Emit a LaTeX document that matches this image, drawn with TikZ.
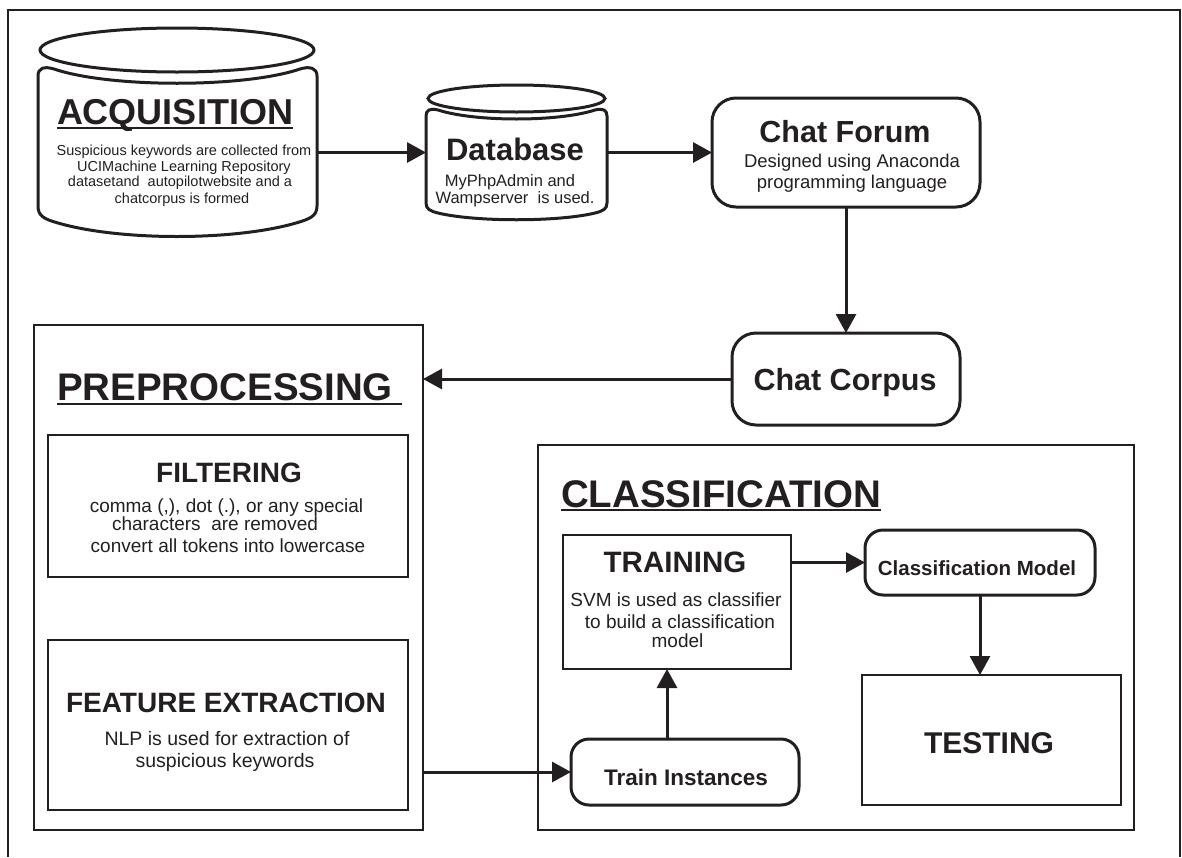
\documentclass[tikz,border=0pt]{standalone}
\usepackage{fontspec}
\setmainfont{Liberation Sans}
\usetikzlibrary{arrows.meta}
\definecolor{ink}{HTML}{231F20}
\newcommand\setfs[1]{\fontsize{#1pt}{#1pt}\selectfont}

\begin{document}
\begin{tikzpicture}[x=1pt,y=-1pt,
  frame/.style={draw=ink, line width=2.2pt},
  cyl/.style={draw=ink, line width=3pt},
  boxr/.style={draw=ink, line width=2.8pt, inner sep=0pt, outer sep=0pt},
  rbox/.style={boxr, line width=3pt, rounded corners=24pt},
  hit/.style={inner sep=0pt, outer sep=0pt},
  txt/.style={inner sep=0pt, outer sep=0pt, text=ink, anchor=base},
  ttl/.style={txt, font=\bfseries\setfs{#1}},
  sm/.style={txt, font=\setfs{#1}},
  uline/.style={draw=ink, line width=2pt},
  arrow/.style={draw=ink, line width=3pt, -{Triangle[length=19pt,width=20pt]}},
]
\useasboundingbox (0,0) rectangle (1182,857);

% page frame, open at the bottom
\draw[frame] (8,857) -- (8,10) -- (1180,10) -- (1180,857);

% ---- acquisition store ----
\draw[cyl] (177,50) ellipse [x radius=137, y radius=22];
\draw[cyl] (38,76) .. controls (38,68) and (44,66) .. (54,69)
  .. controls (110,88) and (244,88) .. (300,69)
  .. controls (310,66) and (317,68) .. (317,76) -- (317,206)
  .. controls (317,216) and (310,219) .. (296,223)
  .. controls (234,241) and (120,241) .. (58,223)
  .. controls (44,219) and (38,216) .. (38,206) -- cycle;
\node[hit, minimum width=279pt, minimum height=169pt] (acq) at (177.5,152.5) {};
\node[ttl=36, anchor=base west] (acqT) at (57,124) {ACQUISITION};
\draw[uline] ([yshift=-4pt]acqT.base west) -- ([yshift=-4pt]acqT.base east);
\node[sm=14.5] (acq1) at (184,155) {Suspicious keywords are collected from};
\node[sm=14.5] (acq2) at (184,171) {UCIMachine Learning Repository};
\node[sm=14.5] (acq3) at (180,186) {datasetand\ \ autopilotwebsite and a};
\node[sm=14.5] (acq4) at (182,203) {chatcorpus is formed};

% ---- database store ----
\draw[cyl] (516.5,98.5) ellipse [x radius=88.5, y radius=13.5];
\draw[cyl] (426,116) .. controls (426,110) and (430,108) .. (438,110)
  .. controls (475,122) and (558,122) .. (595,110)
  .. controls (603,108) and (607,110) .. (607,116) -- (607,203)
  .. controls (607,209) and (603,211) .. (595,213)
  .. controls (558,222) and (475,222) .. (438,213)
  .. controls (430,211) and (426,209) .. (426,203) -- cycle;
\node[hit, minimum width=181pt, minimum height=108pt] (db) at (516.5,164) {};
\node[ttl=31] (dbT) at (515,160) {Database};
\node[sm=16.5] (db1) at (510,186) {MyPhpAdmin and};
\node[sm=16.5] (db2) at (515,203) {Wampserver\ \ is used.};

% ---- chat forum and corpus ----
\node[rbox, minimum width=268pt, minimum height=109pt] (forum) at (846,152.5) {};
\node[ttl=30.5] (forumT) at (845,142) {Chat Forum};
\node[sm=18.5] (forum1) at (852,167) {Designed using Anaconda};
\node[sm=18.5] (forum2) at (852,188) {programming language};

\node[rbox, minimum width=228pt, minimum height=92pt] (corpus) at (846,379) {};
\node[ttl=30.5] (corpusT) at (845,390) {Chat Corpus};

% ---- preprocessing ----
\node[boxr, minimum width=389pt, minimum height=505pt] (pre) at (228.5,577.5) {};
\node[ttl=38.5, anchor=base west] (preT) at (57,400) {PREPROCESSING};
\draw[uline] ([yshift=-3.5pt]preT.base west) -- ([yshift=-3.5pt,xshift=9pt]preT.base east);

\node[boxr, minimum width=360pt, minimum height=142pt] (filt) at (228,506) {};
\node[ttl=28] (filtT) at (229,482) {FILTERING};
\node[sm=19] (filt1) at (226.5,512) {comma (,), dot (.), or any special};
\node[sm=19] (filt2) at (215,530) {characters\ \ are removed};
\node[sm=19] (filt3) at (228,552) {convert all tokens into lowercase};

\node[boxr, minimum width=360pt, minimum height=170pt] (feat) at (228,725) {};
\node[ttl=28] (featT) at (226,712) {FEATURE EXTRACTION};
\node[sm=19.5] (feat1) at (227,745) {NLP is used for extraction of};
\node[sm=19.5] (feat2) at (225,767) {suspicious keywords};

% ---- classification ----
\node[boxr, minimum width=596pt, minimum height=385pt] (cls) at (836,637.5) {};
\node[ttl=38.5, anchor=base west] (clsT) at (561,507) {CLASSIFICATION};
\draw[uline] ([yshift=-3pt]clsT.base west) -- ([yshift=-3pt]clsT.base east);

\node[boxr, minimum width=228pt, minimum height=134pt] (train) at (677,602) {};
\node[ttl=29.5] (trainT) at (675,572) {TRAINING};
\node[sm=19] (train1) at (676,606) {SVM is used as classifier};
\node[sm=19] (train2) at (680,628) {to build a classification};
\node[sm=19] (train3) at (677.5,647) {model};

\node[rbox, rounded corners=18pt, minimum width=230pt, minimum height=65pt] (model) at (980,562.5) {};
\node[ttl=20.5] (modelT) at (977,575) {Classification Model};

\node[boxr, minimum width=259pt, minimum height=130pt] (test) at (991.5,740) {};
\node[ttl=30] (testT) at (989,753) {TESTING};

\node[rbox, rounded corners=18pt, minimum width=228pt, minimum height=66pt] (inst) at (685,772) {};
\node[ttl=22.5] (instT) at (686,785) {Train Instances};

% ---- connectors ----
\draw[arrow] (acq.east) -- (acq.east -| db.west);
\draw[arrow] (db.east |- forum.west) -- (forum.west);
\draw[arrow] (forum.south) -- (corpus.north);
\draw[arrow] (corpus.west) -- (corpus.west -| pre.east);
\draw[arrow] (pre.east |- inst.west) -- (inst.west);
\draw[arrow] ([xshift=-18pt]inst.north) -- ([xshift=-18pt]inst.north |- train.south);
\draw[arrow] (train.east |- model.west) -- (model.west);
\draw[arrow] (model.south) -- (model.south |- test.north);
\end{tikzpicture}
\end{document}
